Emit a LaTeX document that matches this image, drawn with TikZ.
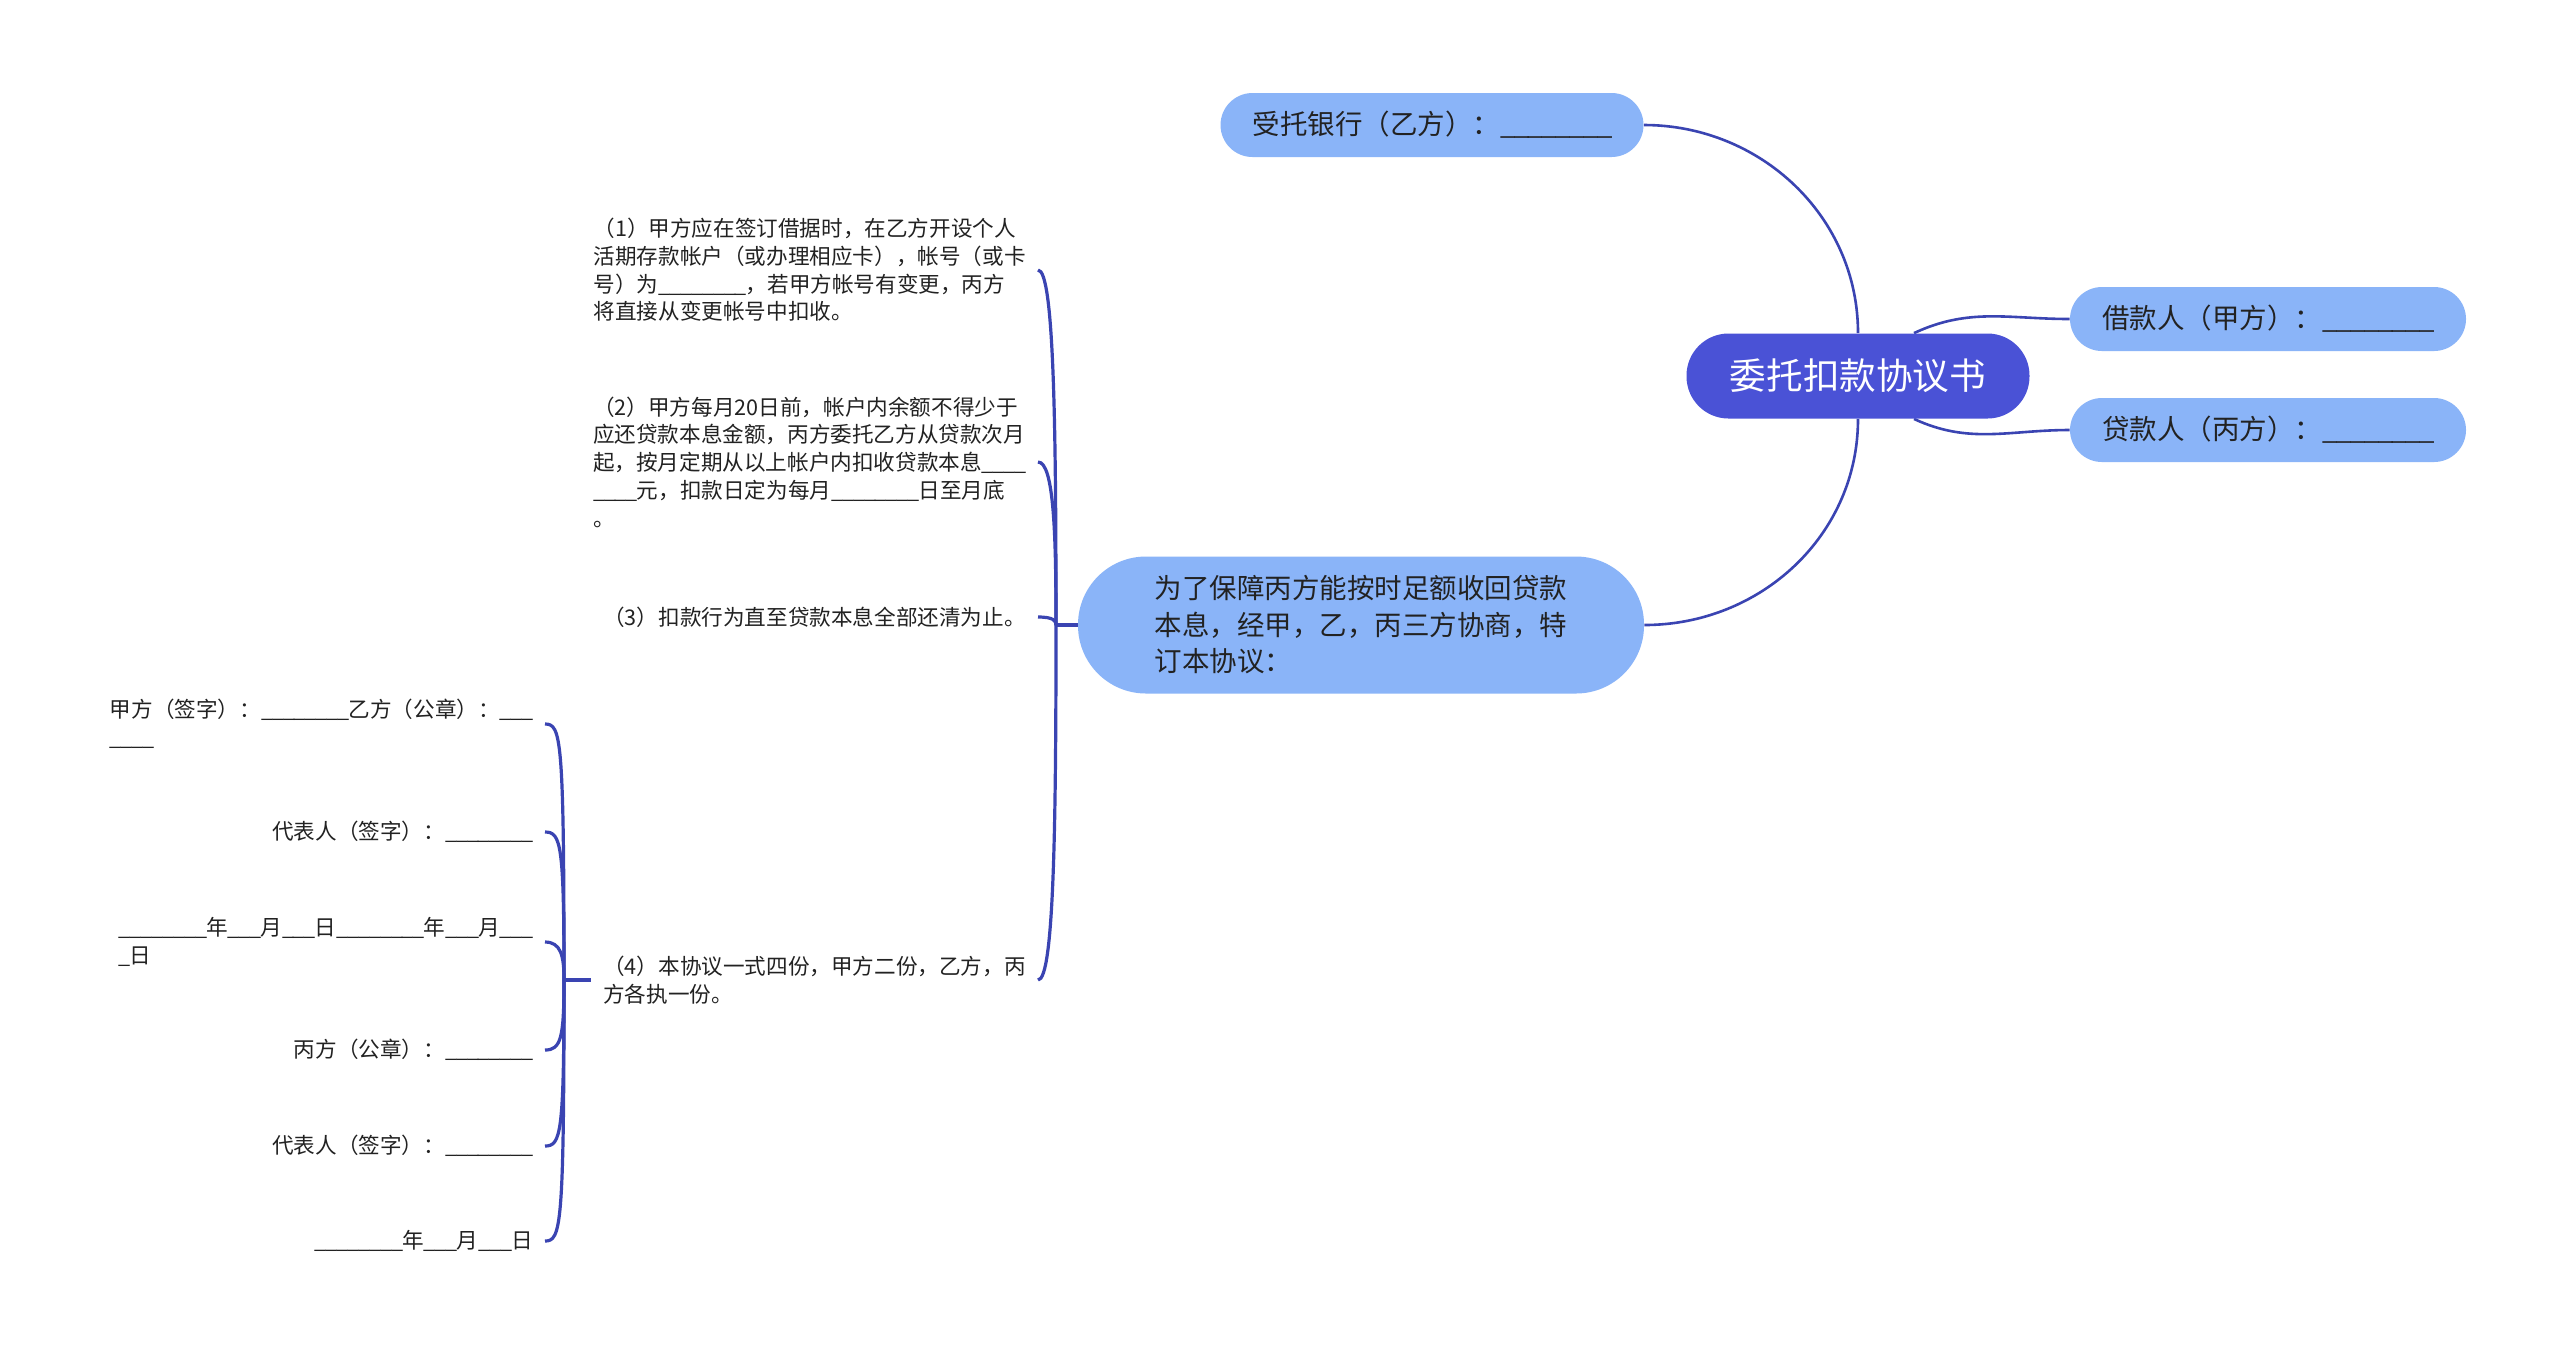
\documentclass[tikz,border=0pt]{standalone}
\usepackage{fontspec}
\setmainfont{Noto Sans CJK SC}
\usetikzlibrary{backgrounds}
\definecolor{rootblue}{RGB}{74,82,214}
\definecolor{leafblue}{RGB}{138,180,248}
\definecolor{linkblue}{RGB}{58,68,178}
\definecolor{txt}{RGB}{34,34,34}
\newcommand{\blanks}[1]{\foreach \i in {1,...,#1}{\_\kern-0.053em}}
\tikzset{
	rootnode/.style={fill=rootblue, text=white, rounded corners=21pt, minimum width=171.5pt, minimum height=42.5pt, font=\fontsize{18.3}{22}\selectfont},
	leaf/.style={fill=leafblue, text=txt, rounded corners=16pt, minimum height=32pt, font=\fontsize{13.75}{16}\selectfont},
	note/.style={text=txt, align=left, inner xsep=6pt, inner ysep=0pt, font=\fontsize{10.8}{13.85}\selectfont},
	link/.style={draw=linkblue, line width=1.3pt},
	bracelink/.style={draw=linkblue, line width=1.6pt}
}
\begin{document}
\begin{tikzpicture}[x=0.5pt, y=-0.5pt]
	\useasboundingbox (0,0) rectangle (2560,1357);
	%centre and main topics
	\node[rootnode] (root) at (1858,376) {委托扣款协议书};
	\node[leaf, minimum width=211.5pt] (bank) at (1432,125) {受托银行（乙方）：\blanks{8}};
	\node[leaf, minimum width=198pt] (jie) at (2268,319) {借款人（甲方）：\blanks{8}};
	\node[leaf, minimum width=198pt] (dai) at (2268,430) {贷款人（丙方）：\blanks{8}};
	\node[leaf, minimum width=283pt, minimum height=68.5pt, rounded corners=34pt, align=left,
		font=\fontsize{13.75}{18.25}\selectfont] (mid) at (1361,625)
		{为了保障丙方能按时足额收回贷款\\本息，经甲，乙，丙三方协商，特\\订本协议：};
	%clauses
	\node[note, anchor=east] (t1) at (1038,270)
		{（1）甲方应在签订借据时，在乙方开设个人\\活期存款帐户（或办理相应卡），帐号（或卡\\号）为\blanks{8}，若甲方帐号有变更，丙方\\将直接从变更帐号中扣收。};
	\node[note, anchor=east] (t2) at (1038,462)
		{（2）甲方每月20日前，帐户内余额不得少于\\应还贷款本息金额，丙方委托乙方从贷款次月\\起，按月定期从以上帐户内扣收贷款本息\blanks{4}\\\blanks{4}元，扣款日定为每月\blanks{8}日至月底\\。};
	\node[note, anchor=east] (t3) at (1038,617) {（3）扣款行为直至贷款本息全部还清为止。};
	\node[note, anchor=east] (t4) at (1038,980) {（4）本协议一式四份，甲方二份，乙方，丙\\方各执一份。};
	%signatures
	\node[note, anchor=east] (s1) at (545,724) {甲方（签字）：\blanks{8}乙方（公章）：\blanks{3}\\\blanks{4}};
	\node[note, anchor=east] (s2) at (545,832) {代表人（签字）：\blanks{8}};
	\node[note, anchor=east] (s3) at (545,942) {\blanks{8}年\blanks{3}月\blanks{3}日\blanks{8}年\blanks{3}月\blanks{3}\\\blanks{1}日};
	\node[note, anchor=east] (s4) at (545,1050) {丙方（公章）：\blanks{8}};
	\node[note, anchor=east] (s5) at (545,1146) {代表人（签字）：\blanks{8}};
	\node[note, anchor=east] (s6) at (545,1241) {\blanks{8}年\blanks{3}月\blanks{3}日};
	\coordinate (mj) at (1056,625);
	\coordinate (lj) at (564,980);
	%connectors
	\begin{scope}[on background layer]
		\fill[white] (0,0) rectangle (2560,1357);
		\draw[link] (root.north) to[out=90, in=0] (bank.east);
		\draw[link] (root.south) to[out=-90, in=0] (mid.east);
		\draw[link] ([xshift=28pt]root.north) to[out=25, in=180] (jie.west);
		\draw[link] ([xshift=28pt]root.south) to[out=-25, in=180] (dai.west);
		\draw[bracelink] (mid.west) -- (mj);
		\foreach \n/\a/\d in {t1/90/100, t2/90/45, t3/90/2, t4/-90/100}
		\draw[bracelink] (mj) to[out=\a, in=0, out distance=\d pt, in distance=8pt] (\n.east);
		\draw[bracelink] (t4.west) -- (lj);
		\foreach \n/\a/\d in {s1/90/122, s2/90/68, s3/90/12, s4/-90/29, s5/-90/77, s6/-90/124}
		\draw[bracelink] (lj) to[out=\a, in=0, out distance=\d pt, in distance=8pt] (\n.east);
	\end{scope}
\end{tikzpicture}
\end{document}
